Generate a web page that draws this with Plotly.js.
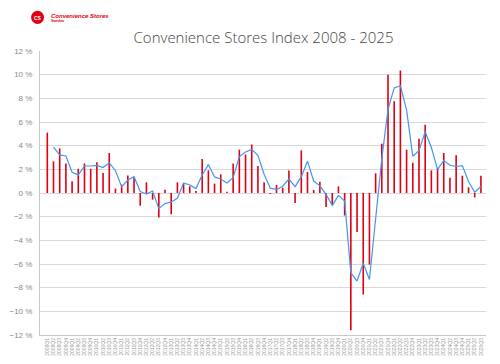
<!DOCTYPE html>
<html>
<head>
<meta charset="utf-8">
<script src="https://cdn.plot.ly/plotly-3.0.1.min.js"></script>
<style>
html,body{margin:0;padding:0;background:#fff;}
#chart{width:500px;height:364px;}
</style>
</head>
<body>
<div id="chart"></div>
<script>
// Quarterly categories 2008Q1 .. 2025Q3
const quarters = [];
for (let y = 2008; y <= 2025; y++) {
  for (let q = 1; q <= 4; q++) {
    if (y === 2025 && q > 3) break;
    quarters.push(y + 'Q' + q);
  }
}

// Quarterly index change (%)
const indexChange = [5.1, 2.67, 3.77, 2.5, 1.0, 2.05, 2.5, 2.05, 2.6, 1.7,
  3.38, 0.37, 0.7, 1.47, 1.3, -1.07, 0.9, -0.56, -2.08, 0.28,
  -1.8, 0.9, 0.79, 0.57, 0.17, 2.87, 1.92, 0.79, 1.58, 0.11,
  2.5, 3.66, 3.26, 4.1, 2.28, 0.9, -0.08, 0.68, 0.45, 1.91,
  -0.84, 3.6, 1.77, 0.25, 0.96, -1.18, -0.96, 0.56, -1.9, -11.59,
  -3.29, -8.58, -6.05, 1.66, 4.16, 9.99, 7.76, 10.35, 3.66, 2.56,
  4.59, 5.77, 1.91, 2.1, 3.38, 1.29, 3.18, 1.46, 0.48, -0.37,
  1.46];

// Smoothed trend line (%)
const trend = [null, 3.88, 3.22, 3.13, 1.75, 1.53, 2.28, 2.28, 2.33, 2.15,
  2.54, 1.88, 0.54, 1.09, 1.38, 0.12, -0.09, 0.17, -1.32, -0.9,
  -0.76, -0.45, 0.85, 0.68, 0.37, 1.52, 2.4, 1.36, 1.18, 0.85,
  1.3, 3.08, 3.46, 3.68, 3.19, 1.59, 0.41, 0.3, 0.57, 1.18,
  0.54, 1.38, 2.69, 1.01, 0.6, -0.11, -1.07, -0.2, -0.67, -6.75,
  -7.44, -5.94, -7.31, -2.2, 2.91, 7.07, 8.88, 9.06, 7.0, 3.11,
  3.58, 5.18, 3.84, 2.0, 2.74, 2.34, 2.24, 2.32, 0.97, 0.06,
  0.55];

const yTicks = [12, 10, 8, 6, 4, 2, 0, -2, -4, -6, -8, -10, -12];
const yTickText = yTicks.map(v => (v < 0 ? '\u2212' + Math.abs(v) : String(v)) + ' %');

const FONT = '"Liberation Sans", Arial, sans-serif';

const data = [
  {
    type: 'bar',
    x: quarters,
    y: indexChange,
    width: 0.26,
    marker: {color: '#e10010', line: {width: 0}},
    hoverinfo: 'x+y'
  },
  {
    type: 'scatter',
    mode: 'lines',
    x: quarters,
    y: trend,
    line: {color: '#3f97f5', width: 1.2},
    connectgaps: false
  }
];

const layout = {
  width: 500,
  height: 364,
  margin: {l: 40, r: 14, t: 51, b: 29, pad: 0},
  paper_bgcolor: '#ffffff',
  plot_bgcolor: '#ffffff',
  showlegend: false,
  font: {family: FONT, color: '#888'},
  title: {
    text: 'Convenience Stores Index 2008 - 2025',
    font: {family: '"Open Sans", "Liberation Sans", sans-serif', size: 15, color: '#444', weight: 300},
    x: 0.527, xanchor: 'center',
    y: 0.897, yanchor: 'middle'
  },
  xaxis: {
    type: 'category',
    range: [-1.18, 70.82],
    tickangle: -90,
    tickfont: {size: 5, color: '#999', family: FONT},
    showgrid: false,
    zeroline: false,
    showline: true,
    linecolor: '#c8c8c8',
    linewidth: 1,
    ticks: '',
    automargin: false
  },
  yaxis: {
    range: [-12, 12],
    tickvals: yTicks,
    ticktext: yTickText,
    tickfont: {size: 8, color: '#888', family: FONT},
    showgrid: true,
    gridcolor: '#d9d9d9',
    gridwidth: 1,
    zeroline: false,
    showline: true,
    linecolor: '#c8c8c8',
    linewidth: 1,
    ticks: '',
    ticklabelstandoff: 5,
    automargin: false
  },
  shapes: [
    {type: 'circle', xref: 'paper', yref: 'paper',
     x0: -0.02, x1: 0.009, y0: 1.095, y1: 1.142,
     fillcolor: '#e10010', line: {width: 0}}
  ],
  annotations: [
    {text: '<b>CS</b>', xref: 'paper', yref: 'paper',
     x: -0.0055, y: 1.115, xanchor: 'center', yanchor: 'middle', showarrow: false,
     font: {family: FONT, size: 5, color: '#ffffff'}},
    {text: '<b><i>Convenience Stores</i></b>', xref: 'paper', yref: 'paper',
     x: 0.021, y: 1.125, xanchor: 'left', yanchor: 'middle', showarrow: false,
     font: {family: FONT, size: 6, color: '#e10010'}},
    {text: '<b>Sweden</b>', xref: 'paper', yref: 'paper',
     x: 0.021, y: 1.106, xanchor: 'left', yanchor: 'middle', showarrow: false,
     font: {family: FONT, size: 3.5, color: '#e10010'}}
  ]
};

Plotly.newPlot('chart', data, layout, {displayModeBar: false, staticPlot: true});
</script>
</body>
</html>
